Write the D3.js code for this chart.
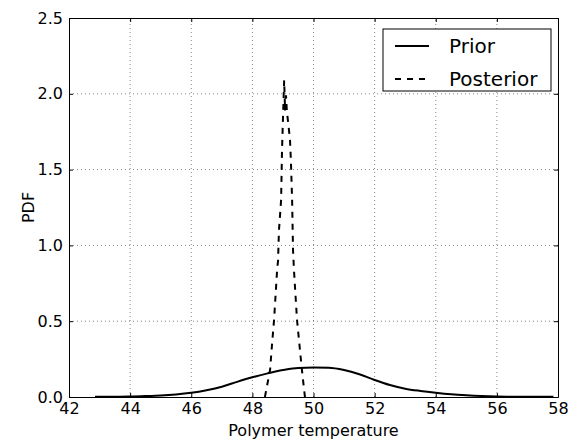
<!DOCTYPE html>
<html>
<head>
<meta charset="utf-8">
<script src="https://cdn.jsdelivr.net/npm/d3@7.9.0/dist/d3.min.js"></script>
<style>
  body { margin: 0; background: #fff; }
  svg { display: block; font-family: 'DejaVu Sans', sans-serif; }
</style>
</head>
<body>
<div id="chart"></div>
<script>
// values
const priorX = [42.85, 43.5, 44, 44.5, 45, 45.5, 46, 46.5, 47, 47.5, 48, 48.5, 49, 49.5, 50, 50.5,
  51, 51.5, 52, 52.5, 53, 53.5, 54, 54.5, 55, 55.5, 56, 56.5, 57, 57.5, 57.85];
const priorPdf = [0.001, 0.002, 0.003, 0.006, 0.010, 0.017, 0.028, 0.045, 0.068, 0.100, 0.130, 0.156, 0.178, 0.192, 0.194, 0.193,
  0.178, 0.150, 0.112, 0.079, 0.055, 0.040, 0.028, 0.018, 0.011, 0.006, 0.003, 0.002, 0.001, 0.001, 0.001];

const postX = [48.41, 48.58, 48.64, 48.71, 48.81, 48.84, 48.87, 48.94, 48.97, 49.00, 49.04, 49.07, 49.10,
  49.13, 49.16, 49.23, 49.26, 49.30, 49.33, 49.36, 49.46, 49.62, 49.72];
const postPdf = [0.0, 0.18, 0.34, 0.51, 0.84, 0.90, 1.10, 1.30, 1.63, 1.83, 2.09, 1.89, 1.99,
  1.88, 1.83, 1.70, 1.56, 1.30, 0.97, 0.84, 0.51, 0.18, 0.0];

const xTicks = [42, 44, 46, 48, 50, 52, 54, 56, 58];
const yTicks = [0, 0.5, 1.0, 1.5, 2.0, 2.5];
const seriesNames = ['Prior', 'Posterior'];

const width = 574, height = 442;
const margin = { top: 18, right: 16, bottom: 45, left: 69 };

const svg = d3.select('#chart').append('svg')
  .attr('width', width).attr('height', height);

const x = d3.scaleLinear().domain([42, 58]).range([margin.left, width - margin.right]);
const y = d3.scaleLinear().domain([0, 2.5]).range([height - margin.bottom, margin.top]);

// grid
const grid = svg.append('g').attr('stroke', '#000').attr('stroke-width', 0.8)
  .attr('stroke-dasharray', '1,3').attr('stroke-opacity', 0.6);
grid.selectAll('line.gx').data(xTicks.slice(1, -1)).join('line')
  .attr('x1', d => x(d)).attr('x2', d => x(d))
  .attr('y1', y(0)).attr('y2', y(2.5));
grid.selectAll('line.gy').data(yTicks.slice(1, -1)).join('line')
  .attr('y1', d => y(d)).attr('y2', d => y(d))
  .attr('x1', x(42)).attr('x2', x(58));

// axes: ticks pointing inward, on all four sides
const fmtY = d3.format('.1f');
const axB = svg.append('g').attr('transform', `translate(0,${y(0)})`)
  .call(d3.axisBottom(x).tickValues(xTicks).tickSizeInner(-4).tickSizeOuter(0).tickPadding(6));
const axT = svg.append('g').attr('transform', `translate(0,${y(2.5)})`)
  .call(d3.axisTop(x).tickValues(xTicks).tickSizeInner(-4).tickSizeOuter(0).tickFormat(''));
const axL = svg.append('g').attr('transform', `translate(${x(42)},0)`)
  .call(d3.axisLeft(y).tickValues(yTicks).tickFormat(fmtY).tickSizeInner(-4).tickSizeOuter(0).tickPadding(6));
const axR = svg.append('g').attr('transform', `translate(${x(58)},0)`)
  .call(d3.axisRight(y).tickValues(yTicks).tickSizeInner(-4).tickSizeOuter(0).tickFormat(''));

[axB, axT, axL, axR].forEach(a => {
  a.select('.domain').attr('stroke', '#000').attr('stroke-width', 1);
  a.selectAll('.tick line').attr('stroke', '#000');
  a.selectAll('text').attr('font-size', 16).attr('fill', '#000')
    .attr('font-family', "'DejaVu Sans', sans-serif");
});

// curves
const line = d3.line().x(d => x(d[0])).y(d => y(d[1]));
svg.append('path')
  .datum(d3.zip(priorX, priorPdf))
  .attr('d', line.curve(d3.curveMonotoneX))
  .attr('fill', 'none').attr('stroke', '#000').attr('stroke-width', 2);
svg.append('path')
  .datum(d3.zip(postX, postPdf))
  .attr('d', d3.line().x(d => x(d[0])).y(d => y(d[1])))
  .attr('fill', 'none').attr('stroke', '#000').attr('stroke-width', 2)
  .attr('stroke-dasharray', '6,6');

// axis labels
svg.append('text').attr('x', (x(42) + x(58)) / 2).attr('y', 436)
  .attr('text-anchor', 'middle').attr('font-size', 16).text('Polymer temperature');
svg.append('text').attr('transform', `translate(34,${(y(0) + y(2.5)) / 2}) rotate(-90)`)
  .attr('text-anchor', 'middle').attr('font-size', 16).text('PDF');

// legend
const lg = svg.append('g').attr('transform', 'translate(383,29)');
lg.append('rect').attr('width', 168).attr('height', 62)
  .attr('fill', '#fff').attr('stroke', '#000').attr('stroke-width', 1);
const rows = lg.selectAll('g.row').data(seriesNames).join('g')
  .attr('transform', (d, i) => `translate(0,${17 + i * 33})`);
rows.append('line').attr('x1', 12).attr('x2', 46)
  .attr('stroke', '#000').attr('stroke-width', 2)
  .attr('stroke-dasharray', (d, i) => i ? '6,6' : null);
rows.append('text').attr('x', 66).attr('dy', '0.35em')
  .attr('font-size', 20).text(d => d);
</script>
</body>
</html>
